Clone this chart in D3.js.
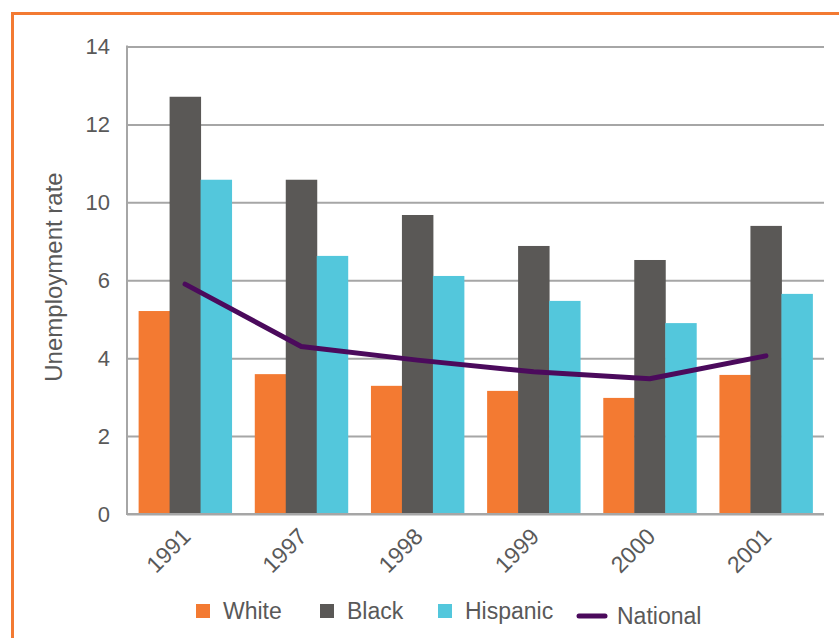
<!DOCTYPE html>
<html>
<head>
<meta charset="utf-8">
<script src="https://cdn.jsdelivr.net/npm/d3@7"></script>
<style>
  body { margin: 0; background: #fff; }
  svg text { font-family: "Liberation Sans", Arial, Helvetica, sans-serif; fill: #595959; }
</style>
</head>
<body>
<svg width="839" height="638"></svg>
<script>
// values
const years = ["1991", "1997", "1998", "1999", "2000", "2001"]
const white = [5.21, 3.59, 3.29, 3.16, 2.98, 3.57]
const black = [12.71, 10.58, 9.35, 7.76, 7.04, 8.79]
const hispanic = [10.58, 7.25, 6.22, 5.47, 4.90, 5.65]
const national = [5.90, 4.30, 3.95, 3.65, 3.47, 4.06]
// the axis in the picture skips 8: gridlines are evenly spaced
const yTicks = [0, 2, 4, 6, 10, 12, 14]
const seriesNames = ["White", "Black", "Hispanic"]
const seriesColors = ["#f37a32", "#5a5856", "#53c7dc"]
const lineName = "National"
const lineColor = "#4b0a5c"

const svg = d3.select("svg")
const plotLeft = 127, plotRight = 824, plotTop = 46.5, plotBottom = 514

// frame
svg.append("rect")
    .attr("x", 12.5).attr("y", 13.5)
    .attr("width", 900).attr("height", 700)
    .attr("fill", "none")
    .attr("stroke", "#f37a32")
    .attr("stroke-width", 3)

const xScale = d3.scaleBand().domain(years).range([plotLeft, plotRight])
    .paddingInner(0.2).paddingOuter(0.1)
const subScale = d3.scaleBand().domain(seriesNames).range([0, xScale.bandwidth()])

// piecewise scale so each tick sits on its evenly spaced gridline
const yScale = d3.scaleLinear()
    .domain(yTicks)
    .range(yTicks.map((d, i) => plotBottom - i * (plotBottom - plotTop) / (yTicks.length - 1)))

// gridlines + labels
const yAxis = d3.axisLeft(yScale).tickValues(yTicks).tickSize(-(plotRight - plotLeft)).tickPadding(17)
svg.append("g")
    .attr("id", "yAxisG")
    .attr("transform", `translate(${plotLeft}, 0)`)
    .call(yAxis)

d3.select("#yAxisG").selectAll("line")
    .attr("stroke", "#a6a6a6")
    .attr("stroke-width", 2)
d3.select("#yAxisG").selectAll("text")
    .style("font-size", "22px")
    .attr("fill", "#595959")
d3.select("#yAxisG").select("path.domain").remove()

svg.append("line")
    .attr("x1", plotLeft).attr("x2", plotLeft)
    .attr("y1", plotTop - 1).attr("y2", plotBottom + 1)
    .attr("stroke", "#a6a6a6")
    .attr("stroke-width", 2)

// bars
const rows = years.map((y, i) => ({ year: y, values: [white[i], black[i], hispanic[i]] }))
svg.append("g")
    .selectAll("g")
    .data(rows)
    .enter()
    .append("g")
    .attr("transform", d => `translate(${xScale(d.year)}, 0)`)
    .selectAll("rect")
    .data(d => d.values.map((v, k) => ({ name: seriesNames[k], v, k })))
    .enter()
    .append("rect")
    .attr("x", d => subScale(d.name))
    .attr("width", subScale.bandwidth() + 0.5)
    .attr("y", d => yScale(d.v))
    .attr("height", d => plotBottom - yScale(d.v))
    .attr("fill", d => seriesColors[d.k])

// baseline over bars
svg.append("line")
    .attr("x1", plotLeft).attr("x2", plotRight)
    .attr("y1", plotBottom).attr("y2", plotBottom)
    .attr("stroke", "#a6a6a6")
    .attr("stroke-width", 2)

// national line
const line = d3.line()
    .x((d, i) => xScale(years[i]) + xScale.bandwidth() / 2)
    .y(d => yScale(d))
svg.append("path")
    .attr("d", line(national))
    .attr("fill", "none")
    .attr("stroke", lineColor)
    .attr("stroke-width", 5)
    .attr("stroke-linecap", "round")
    .attr("stroke-linejoin", "round")

// x labels
const xAxis = d3.axisBottom(xScale).tickSize(0).tickPadding(0)
svg.append("g")
    .attr("id", "xAxisG")
    .attr("transform", `translate(0, ${plotBottom})`)
    .call(xAxis)
d3.select("#xAxisG").select("path.domain").remove()
d3.select("#xAxisG").selectAll("text")
    .style("font-size", "23px")
    .attr("fill", "#595959")
    .attr("text-anchor", "end")
    .attr("dy", 0)
    .attr("transform", "translate(7, 24) rotate(-45)")

// y title
svg.append("text")
    .attr("transform", "translate(62, 277) rotate(-90)")
    .attr("text-anchor", "middle")
    .style("font-size", "24px")
    .text("Unemployment rate")

// legend
const legendX = [196, 320, 438]
const legend = svg.append("g")
seriesNames.forEach((name, i) => {
    legend.append("rect")
        .attr("x", legendX[i]).attr("y", 604)
        .attr("width", 14).attr("height", 14)
        .attr("fill", seriesColors[i])
    legend.append("text")
        .attr("x", legendX[i] + 27).attr("y", 619)
        .style("font-size", "23px")
        .text(name)
})
legend.append("line")
    .attr("x1", 579).attr("x2", 605)
    .attr("y1", 616).attr("y2", 616)
    .attr("stroke", lineColor)
    .attr("stroke-width", 5)
    .attr("stroke-linecap", "round")
legend.append("text")
    .attr("x", 617).attr("y", 624)
    .style("font-size", "23px")
    .text(lineName)
</script>
</body>
</html>
